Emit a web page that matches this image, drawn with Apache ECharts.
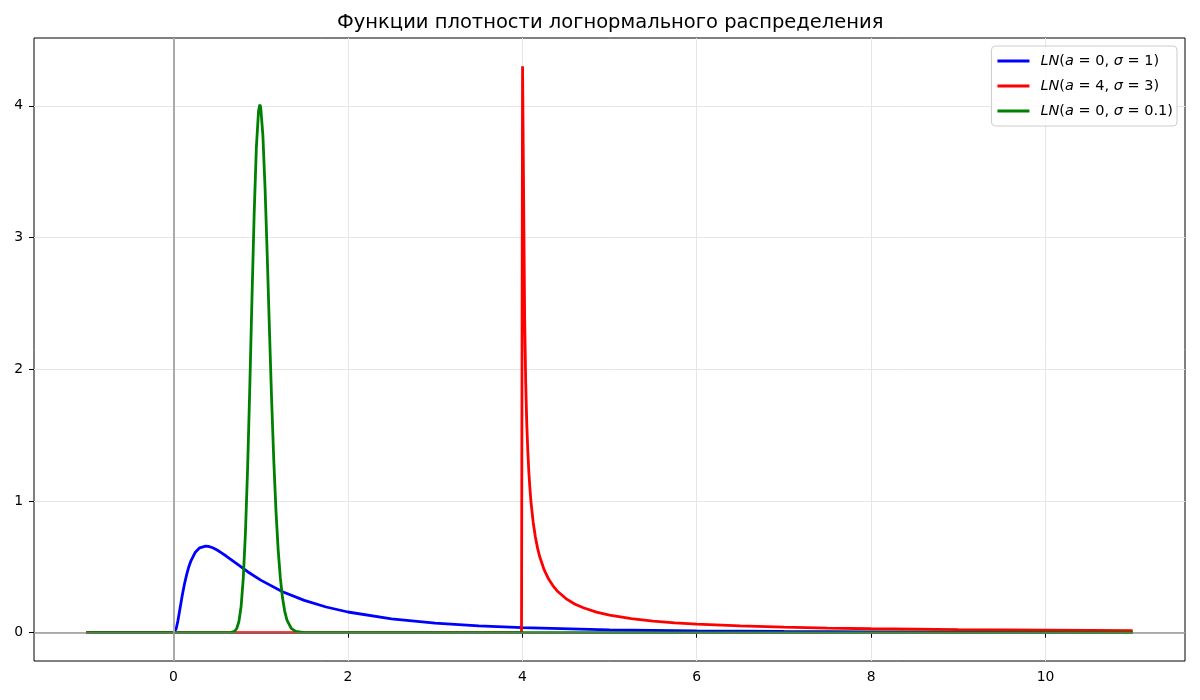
<!DOCTYPE html>
<html lang="ru">
<head>
    <meta charset="UTF-8">
    <title>Логнормальное распределение</title>
</head>
<body style="margin:0">

    <div id="echarts" style="width: 1200px; height: 700px"></div>
    <script src="https://cdn.jsdelivr.net/npm/echarts@6/dist/echarts.min.js"></script>
    <script>
        // values
        const blueX = [-1, 0, 0.02, 0.03, 0.05, 0.075, 0.1, 0.125, 0.15, 0.175, 0.2, 0.25, 0.3, 0.368, 0.4, 0.45, 0.5, 0.55, 0.6, 0.7, 0.85, 1, 1.25, 1.5, 1.75, 2, 2.5, 3, 3.5, 4, 5, 6, 7, 8, 9, 10, 11];
        const blueY = [0, 0, 0.01, 0.028, 0.089, 0.186, 0.282, 0.368, 0.439, 0.499, 0.546, 0.611, 0.644, 0.657, 0.655, 0.645, 0.628, 0.606, 0.584, 0.535, 0.463, 0.399, 0.311, 0.245, 0.195, 0.157, 0.105, 0.073, 0.052, 0.038, 0.022, 0.013, 0.009, 0.006, 0.004, 0.003, 0.002];

        const redX = [-1, 3.991, 4.003, 4.015, 4.027, 4.039, 4.051, 4.0625, 4.075, 4.0875, 4.1, 4.125, 4.15, 4.175, 4.2, 4.25, 4.3, 4.35, 4.4, 4.5, 4.6, 4.7, 4.85, 5, 5.25, 5.5, 5.75, 6, 6.5, 7, 7.5, 8, 9, 10, 11];
        const redY = [0, 0, 4.30, 3.33, 2.39, 1.90, 1.59, 1.39, 1.22, 1.093, 0.99, 0.837, 0.726, 0.642, 0.576, 0.478, 0.409, 0.358, 0.317, 0.259, 0.218, 0.189, 0.156, 0.133, 0.106, 0.088, 0.075, 0.065, 0.051, 0.042, 0.035, 0.030, 0.023, 0.019, 0.015];

        const greenX = [-1, 0.6, 0.65, 0.7, 0.725, 0.75, 0.775, 0.8, 0.825, 0.85, 0.875, 0.9, 0.925, 0.95, 0.975, 0.99, 1.0, 1.025, 1.05, 1.075, 1.1, 1.125, 1.15, 1.175, 1.2, 1.225, 1.25, 1.275, 1.3, 1.35, 1.4, 1.5, 11];
        const greenY = [0, 0, 0.001, 0.010, 0.032, 0.085, 0.198, 0.413, 0.761, 1.254, 1.87, 2.544, 3.18, 3.683, 3.96, 4.009, 3.989, 3.775, 3.373, 2.86, 2.303, 1.77, 1.306, 0.925, 0.630, 0.416, 0.265, 0.164, 0.098, 0.033, 0.010, 0.001, 0];

        const xTicks = [0, 2, 4, 6, 8, 10];
        const yTicks = [0, 1, 2, 3, 4];

        const names = ['LN(a=0,σ=1)', 'LN(a=4,σ=3)', 'LN(a=0,σ=0.1)'];
        const legendText = {
            'LN(a=0,σ=1)': '{i|LN}({i|a} = 0, {i|σ} = 1)',
            'LN(a=4,σ=3)': '{i|LN}({i|a} = 4, {i|σ} = 3)',
            'LN(a=0,σ=0.1)': '{i|LN}({i|a} = 0, {i|σ} = 0.1)'
        };

        const pairs = (xs, ys) => xs.map((x, i) => [x, ys[i]]);
        const font = 'DejaVu Sans';

        const option = {
            animation: false,
            title: {
                text: 'Функции плотности логнормального распределения',
                left: 337,
                top: 13,
                padding: 0,
                textStyle: { fontFamily: font, fontSize: 19.5, fontWeight: 'normal', color: '#000' }
            },
            legend: {
                orient: 'vertical',
                right: 23,
                top: 46,
                padding: [6, 4, 6, 6],
                itemGap: 7,
                itemWidth: 32,
                itemHeight: 3,
                icon: 'rect',
                backgroundColor: 'rgba(255,255,255,0.8)',
                borderColor: '#cccccc',
                borderWidth: 1,
                borderRadius: 4,
                data: names,
                formatter: name => legendText[name],
                textStyle: {
                    fontFamily: font,
                    fontSize: 14.5,
                    color: '#000',
                    lineHeight: 18,
                    padding: [0, 0, 0, 6],
                    rich: { i: { fontFamily: font, fontSize: 14.5, fontStyle: 'italic', color: '#000' } }
                }
            },
            grid: {
                left: 34, right: 15, top: 38, bottom: 39,
                show: true, borderColor: '#000', borderWidth: 1
            },
            xAxis: {
                type: 'value',
                min: -1.6,
                max: 11.6,
                splitNumber: 6,
                axisLine: { show: false },
                axisTick: { show: true, length: 5, lineStyle: { color: '#000' }, customValues: xTicks },
                axisLabel: { customValues: xTicks, margin: 9, fontFamily: font, fontSize: 13.9, color: '#000' },
                splitLine: { show: true, lineStyle: { color: '#e6e6e6', width: 1 } }
            },
            yAxis: {
                type: 'value',
                min: -0.215,
                max: 4.515,
                splitNumber: 5,
                axisLine: { show: false, onZero: false },
                axisTick: { show: true, length: 5, lineStyle: { color: '#000' }, customValues: yTicks },
                axisLabel: { customValues: yTicks, margin: 11, fontFamily: font, fontSize: 13.9, color: '#000' },
                splitLine: { show: true, lineStyle: { color: '#e6e6e6', width: 1 } }
            },
            series: [
                {
                    name: names[0], type: 'line', showSymbol: false,
                    data: pairs(blueX, blueY),
                    lineStyle: { color: '#0000ff', width: 2.8 }, itemStyle: { color: '#0000ff' }
                },
                {
                    name: names[1], type: 'line', showSymbol: false,
                    data: pairs(redX, redY),
                    lineStyle: { color: '#ff0000', width: 2.8 }, itemStyle: { color: '#ff0000' }
                },
                {
                    name: names[2], type: 'line', showSymbol: false,
                    data: pairs(greenX, greenY),
                    lineStyle: { color: '#008000', width: 2.8 }, itemStyle: { color: '#008000' },
                    markLine: {
                        silent: true,
                        symbol: 'none',
                        label: { show: false },
                        data: [
                            { xAxis: 0, lineStyle: { color: '#aaaaaa', width: 2, type: 'solid' } },
                            { yAxis: 0, lineStyle: { color: 'rgba(128,128,128,0.6)', width: 2, type: 'solid' } }
                        ]
                    }
                }
            ]
        };

        var chartDom = document.getElementById("echarts");
        var myChart = echarts.init(chartDom);
        myChart.setOption(option);
    </script>
</body>
</html>
